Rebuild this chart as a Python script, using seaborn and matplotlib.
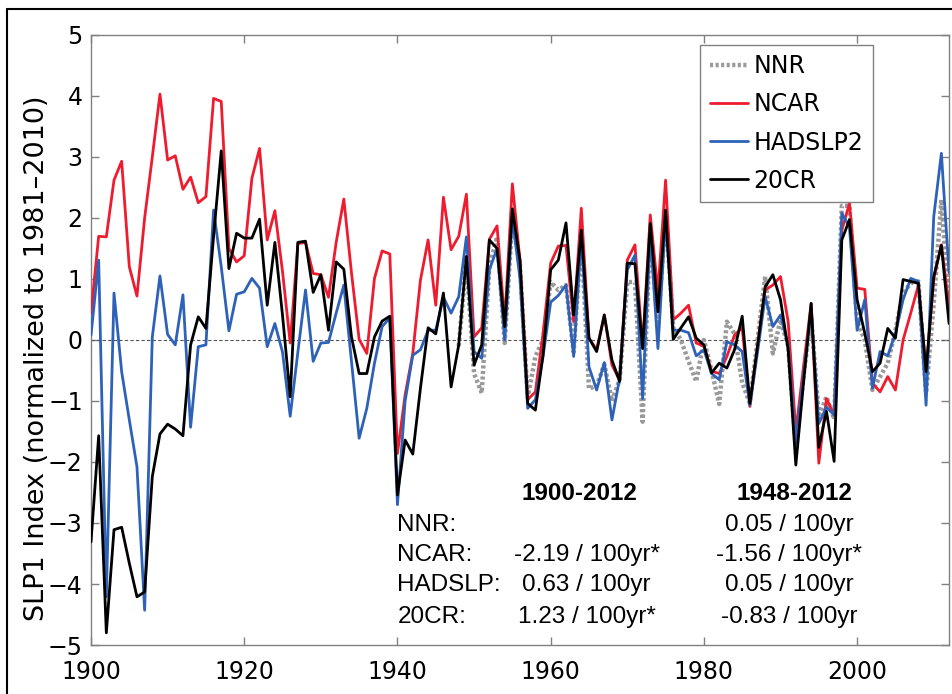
import numpy as np
import pandas as pd
import matplotlib
matplotlib.use("Agg")
import matplotlib.pyplot as plt
from matplotlib.lines import Line2D
import seaborn as sns

# ── Data ─────────────────────────────────────────────────────────────────────
years = np.arange(1900, 2013)
nnr_years = np.arange(1948, 2013)

ncar = [
    0.44, 1.70, 1.69, 2.62, 2.93, 1.20, 0.72, 2.00, 3.00, 4.03,
    2.95, 3.02, 2.47, 2.67, 2.25, 2.35, 3.96, 3.91, 1.50, 1.28,
    1.38, 2.65, 3.14, 1.64, 2.12, 1.12, -0.05, 1.58, 1.60, 1.09,
    1.07, 0.70, 1.60, 2.31, 1.10, 0.01, -0.22, 1.01, 1.46, 1.41,
    -1.86, -0.90, -0.22, 0.98, 1.64, 0.57, 2.34, 1.48, 1.70, 2.39,
    0.05, 0.20, 1.65, 1.87, 0.30, 2.56, 1.30, -0.98, -0.85, 0.10,
    1.26, 1.54, 1.55, 0.30, 2.16, 0.03, -0.16, 0.41, -0.41, -0.66,
    1.31, 1.56, -0.11, 2.05, 0.79, 2.62, 0.33, 0.44, 0.57, -0.05,
    -0.10, -0.51, -0.55, -0.27, 0.08, 0.20, -1.09, -0.10, 0.82, 0.90,
    1.04, 0.30, -1.50, -0.44, 0.60, -2.02, -0.96, -1.23, 1.80, 2.24,
    0.85, 0.83, -0.71, -0.85, -0.60, -0.82, 0.00, 0.44, 0.90, -0.50,
    1.00, 1.56, 0.55,
]

hadslp2 = [
    0.08, 1.31, -4.21, 0.77, -0.52, -1.31, -2.08, -4.43, 0.05, 1.05,
    0.09, -0.08, 0.74, -1.43, -0.11, -0.08, 2.13, 1.20, 0.15, 0.75,
    0.79, 1.01, 0.85, -0.11, 0.27, -0.20, -1.25, -0.20, 0.82, -0.35,
    -0.05, -0.04, 0.44, 0.90, -0.35, -1.61, -1.12, -0.38, 0.22, 0.36,
    -2.70, -1.00, -0.25, -0.16, 0.16, 0.16, 0.70, 0.44, 0.71, 1.69,
    -0.19, -0.30, 1.15, 1.50, 0.00, 2.00, 1.00, -1.12, -0.98, -0.27,
    0.62, 0.73, 0.90, -0.27, 1.70, -0.44, -0.82, -0.37, -1.31, -0.63,
    1.15, 1.39, -0.96, 1.75, -0.14, 2.00, 0.16, 0.16, 0.12, -0.26,
    -0.16, -0.55, -0.65, -0.03, -0.08, -0.19, -1.07, -0.20, 0.71, 0.22,
    0.41, -0.10, -1.69, -0.60, 0.49, -1.37, -1.10, -1.23, 2.08, 1.85,
    0.16, 0.66, -0.79, -0.19, -0.26, 0.11, 0.66, 1.01, 0.96, -1.07,
    2.02, 3.06, 1.10,
]

cr20 = [
    -3.31, -1.57, -4.80, -3.11, -3.07, -3.66, -4.21, -4.13, -2.24, -1.54,
    -1.38, -1.46, -1.57, -0.08, 0.38, 0.19, 1.70, 3.10, 1.17, 1.75,
    1.67, 1.67, 1.98, 0.57, 1.60, 0.40, -0.93, 1.60, 1.62, 0.78,
    1.07, 0.16, 1.28, 1.16, 0.05, -0.55, -0.55, 0.05, 0.31, 0.39,
    -2.54, -1.64, -1.87, -0.79, 0.20, 0.10, 0.77, -0.77, -0.08, 1.37,
    -0.41, -0.08, 1.64, 1.50, 0.22, 2.15, 1.30, -1.04, -1.15, -0.25,
    1.15, 1.31, 1.92, 0.41, 1.80, 0.03, -0.19, 0.41, -0.33, -0.68,
    1.26, 1.25, -0.14, 1.91, 0.46, 2.13, 0.01, 0.20, 0.38, 0.03,
    -0.08, -0.54, -0.38, -0.46, -0.16, 0.39, -1.04, -0.10, 0.87, 1.07,
    0.66, -0.16, -2.05, -0.71, 0.60, -1.76, -1.17, -1.99, 1.64, 1.97,
    0.66, 0.11, -0.52, -0.38, 0.19, 0.03, 0.99, 0.96, 0.93, -0.52,
    1.04, 1.55, 0.27,
]

nnr = [
    -0.10, 1.30,
    -0.55, -0.87, 1.20, 1.69, -0.05, 2.00, 1.20, -0.95, -0.27, 0.00,
    0.95, 0.82, 0.90, -0.20, 1.70, -0.80, -0.75, -0.40, -1.00, -0.65,
    0.95, 0.95, -1.34, 1.80, 0.20, 2.10, 0.20, 0.00, -0.35, -0.68,
    0.00, -0.50, -1.05, 0.30, 0.10, -0.70, -1.04, 0.00, 1.04, -0.22,
    0.33, -0.10, -1.75, -0.60, 0.40, -1.26, -0.93, -1.30, 2.20, 2.20,
    0.30, 0.00, -0.82, -0.60, -0.38, 0.16, 0.77, 0.93, 0.96, -0.87,
    0.60, 2.30, 0.50,
]

trend_rows = ["NNR:", "NCAR:", "HADSLP:", "20CR:"]
trend_full = ["", "-2.19 / 100yr*", "0.63 / 100yr", "1.23 / 100yr*"]
trend_recent = ["0.05 / 100yr", "-1.56 / 100yr*", "0.05 / 100yr", "-0.83 / 100yr"]

# ── Colours ──────────────────────────────────────────────────────────────────
NNR_COLOR  = "#9a9a9a"
NCAR_COLOR = "#ee1c2e"
HAD_COLOR  = "#2e62b8"
CR_COLOR   = "#000000"
AX_COLOR   = "#808080"

# ── Figure ───────────────────────────────────────────────────────────────────
sns.set_theme(style="ticks")
plt.rcParams.update({
    "font.family": ["DejaVu Sans"],
    "axes.edgecolor": AX_COLOR,
    "axes.linewidth": 1.0,
    "text.color": "black",
    "axes.labelcolor": "black",
    "xtick.labelcolor": "black",
    "ytick.labelcolor": "black",
})

fig = plt.figure(figsize=(9.52, 6.94), dpi=100)
fig.patch.set_facecolor("white")
ax = fig.add_axes([0.0956, 0.0706, 0.9013, 0.879])

# outer frame (only top/left visible in the crop)
fx, fy = 7 / 952, 1 - 9 / 694
fig.add_artist(Line2D([fx, 1.0], [fy, fy], transform=fig.transFigure, color="black", lw=1.5))
fig.add_artist(Line2D([fx, fx], [0.0, fy], transform=fig.transFigure, color="black", lw=1.5))

ax.axhline(0, color="#555555", lw=0.8, ls=(0, (3, 2)), zorder=1)

sns.lineplot(x=nnr_years, y=nnr, ax=ax, color=NNR_COLOR, lw=3.2,
             linestyle=(0, (0.7, 0.55)), label="NNR", zorder=2)
sns.lineplot(x=years, y=ncar, ax=ax, color=NCAR_COLOR, lw=2.0, label="NCAR", zorder=3)
sns.lineplot(x=years, y=hadslp2, ax=ax, color=HAD_COLOR, lw=2.0, label="HADSLP2", zorder=4)
sns.lineplot(x=years, y=cr20, ax=ax, color=CR_COLOR, lw=2.0, label="20CR", zorder=5)

ax.set_xlim(1900, 2012)
ax.set_ylim(-5, 5)
ax.set_xticks(np.arange(1900, 2001, 20))
ax.set_yticks(np.arange(-5, 6, 1))
ax.tick_params(axis="both", direction="in", top=True, right=True,
               length=6, width=1, color=AX_COLOR, labelsize=17, labelcolor="black")
ax.tick_params(axis="x", pad=11)
ax.tick_params(axis="y", pad=6)
ax.set_xlabel("")
ax.set_ylabel("SLP1 Index (normalized to 1981\u20132010)", fontsize=19.5, color="black")
ax.yaxis.set_label_coords(-0.048, 0.47)

leg = ax.legend(loc="upper right", bbox_to_anchor=(0.911, 0.984), fontsize=17,
                frameon=True, fancybox=False, framealpha=1, edgecolor=AX_COLOR,
                handlelength=1.6, handletextpad=0.25, labelspacing=0.6,
                borderpad=0.4, borderaxespad=0)
leg.get_frame().set_linewidth(1.0)
for t in leg.get_texts():
    t.set_color("black")

# ── Trend table ──────────────────────────────────────────────────────────────
txt = dict(fontsize=17.5, family=["Liberation Sans", "DejaVu Sans"], va="center", color="black")
ax.text(1963.8, -2.51, "1900-2012", ha="center", fontweight="bold", **txt)
ax.text(1991.8, -2.51, "1948-2012", ha="center", fontweight="bold", **txt)
row_y = [-3.03, -3.52, -4.02, -4.54]
for yv, name, full, recent in zip(row_y, trend_rows, trend_full, trend_recent):
    ax.text(1940.0, yv, name, ha="left", **txt)
    if full:
        ax.text(1964.7, yv, full, ha="center", **txt)
    ax.text(1991.1, yv, recent, ha="center", **txt)

fig.savefig("out.png", dpi=100, facecolor="white")
